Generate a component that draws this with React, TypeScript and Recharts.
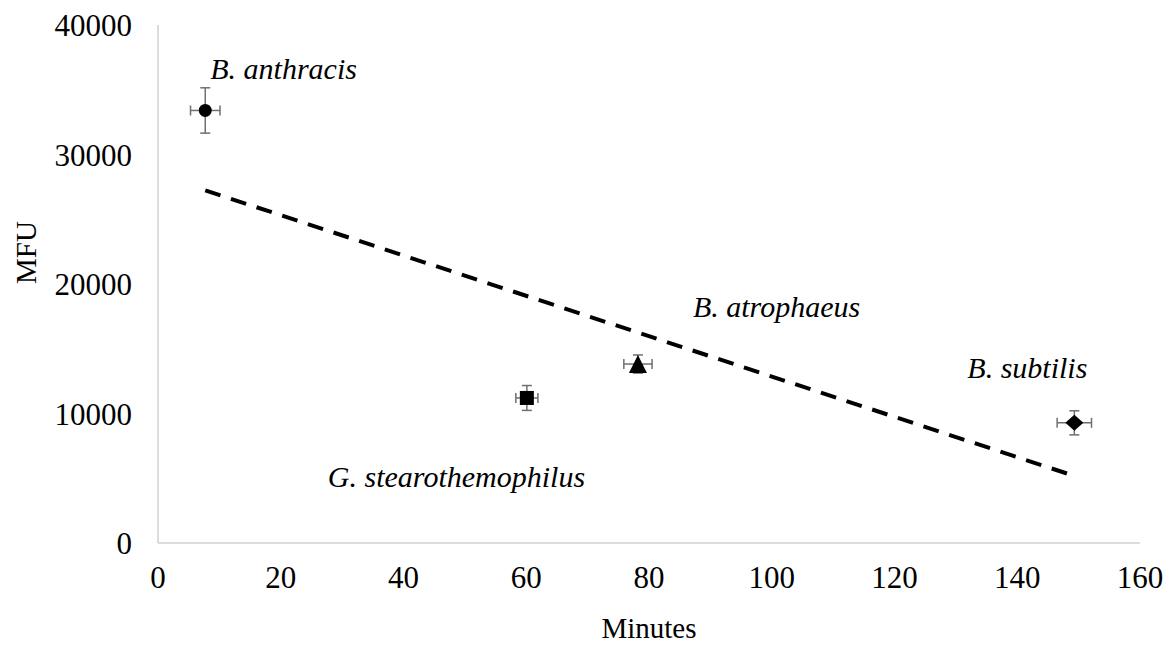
import React from "react";
import {
  ScatterChart,
  Scatter,
  XAxis,
  YAxis,
  ErrorBar,
} from "recharts";

const names = ["B. anthracis", "G. stearothemophilus", "B. atrophaeus", "B. subtilis"];
const minutes = [7.7, 60.1, 78.2, 149.3];
const mfu = [33400, 11200, 13820, 9280];
const minutesErr = [2.4, 1.8, 2.3, 2.8];
const mfuErr = [1750, 960, 700, 930];
const markers = ["circle", "square", "triangle", "diamond"];

const trendMinutes = [7.7, 149.3];
const trendMfu = [27230, 5180];

const xTicks = [0, 20, 40, 60, 80, 100, 120, 140, 160];
const yTicks = [0, 10000, 20000, 30000, 40000];

const FONT = "'Liberation Serif', 'Times New Roman', serif";
const AXIS = "#d0d0d0";
const ERR = "#6f6f6f";

// where each species name sits relative to its marker
const labelOffsets = [
  { dx: 5, dy: -42 },
  { dx: -199, dy: 79 },
  { dx: 55, dy: -58 },
  { dx: -107, dy: -55 },
];

function Marker({ cx, cy, kind }: { cx: number; cy: number; kind: string }) {
  if (kind === "circle") return <circle cx={cx} cy={cy} r={6.5} fill="#000" />;
  if (kind === "square")
    return <rect x={cx - 7} y={cy - 7} width={14} height={14} fill="#000" />;
  if (kind === "triangle")
    return (
      <polygon
        points={`${cx},${cy - 9} ${cx + 9},${cy + 9} ${cx - 9},${cy + 9}`}
        fill="#000"
      />
    );
  return (
    <polygon
      points={`${cx},${cy - 8} ${cx + 9},${cy} ${cx},${cy + 8} ${cx - 9},${cy}`}
      fill="#000"
    />
  );
}

const makeShape = (i: number) => (props: any) => {
  const { cx, cy } = props;
  const off = labelOffsets[i];
  return (
    <g>
      <Marker cx={cx} cy={cy} kind={markers[i]} />
      <text
        x={cx + off.dx}
        y={cy + off.dy}
        dominantBaseline="central"
        fontFamily={FONT}
        fontStyle="italic"
        fontSize={30}
        fill="#000"
      >
        {names[i]}
      </text>
    </g>
  );
};

const series = names.map((name, i) => ({
  name,
  data: [{ x: minutes[i], y: mfu[i], ex: minutesErr[i], ey: mfuErr[i] }],
}));

const trend = trendMinutes.map((x, i) => ({ x, y: trendMfu[i] }));

export default function App() {
  return (
    <div style={{ position: "absolute", left: 0, top: 0, background: "#fff" }}>
      <ScatterChart
        width={1170}
        height={653}
        margin={{ top: 25, right: 30, left: 0, bottom: 0 }}
      >
        <XAxis
          type="number"
          dataKey="x"
          domain={[0, 160]}
          ticks={xTicks}
          height={110}
          tickLine={false}
          tickSize={0}
          tickMargin={23}
          axisLine={{ stroke: AXIS, strokeWidth: 1.5 }}
          tick={{ fill: "#000", fontSize: 31, fontFamily: FONT }}
          label={{
            value: "Minutes",
            position: "insideBottom",
            offset: 15,
            fill: "#000",
            fontSize: 29,
            fontFamily: FONT,
          }}
        />
        <YAxis
          type="number"
          dataKey="y"
          domain={[0, 40000]}
          ticks={yTicks}
          width={158}
          tickLine={false}
          tickSize={0}
          tickMargin={26}
          axisLine={{ stroke: AXIS, strokeWidth: 1.5 }}
          tick={{ fill: "#000", fontSize: 31, fontFamily: FONT }}
          label={{
            value: "MFU",
            angle: -90,
            position: "insideLeft",
            offset: 26,
            fill: "#000",
            fontSize: 29,
            fontFamily: FONT,
          }}
        />
        <Scatter
          data={trend}
          line={{ stroke: "#000", strokeWidth: 4, strokeDasharray: "16 11" }}
          shape={() => <g />}
          isAnimationActive={false}
        />
        {series.map((s, i) => (
          <Scatter
            key={s.name}
            name={s.name}
            data={s.data}
            shape={makeShape(i)}
            isAnimationActive={false}
          >
            <ErrorBar
              dataKey="ex"
              direction="x"
              width={5}
              stroke={ERR}
              strokeWidth={1.5}
              isAnimationActive={false}
            />
            <ErrorBar
              dataKey="ey"
              direction="y"
              width={5}
              stroke={ERR}
              strokeWidth={1.5}
              isAnimationActive={false}
            />
          </Scatter>
        ))}
      </ScatterChart>
    </div>
  );
}
